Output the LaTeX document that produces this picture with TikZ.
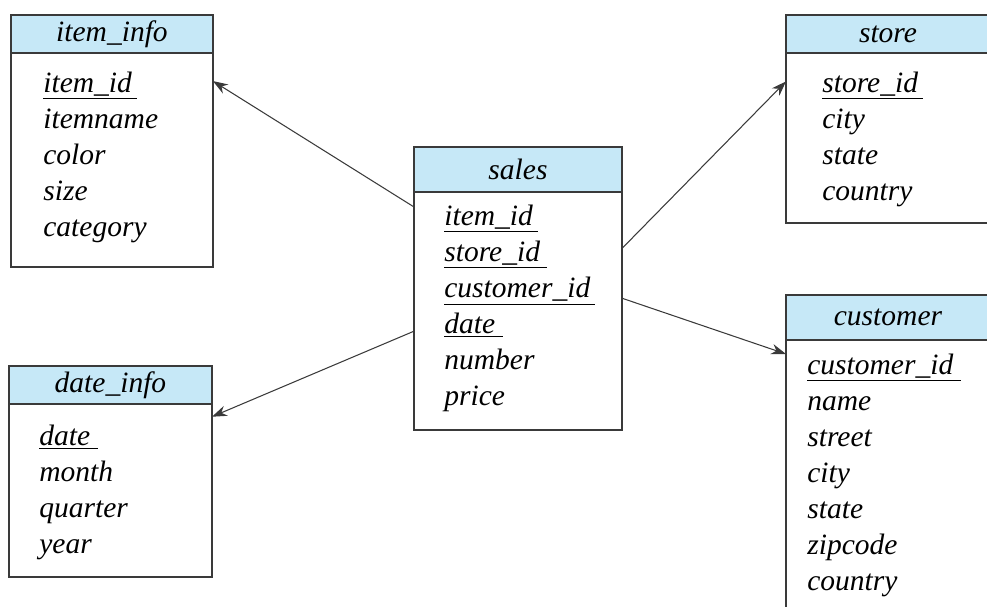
\documentclass[tikz,border=0pt]{standalone}
\usepackage{fontspec}
\setmainfont{Liberation Serif}
\usetikzlibrary{arrows.meta,positioning}

\definecolor{headblue}{HTML}{C6E8F7}
\definecolor{edge}{HTML}{3A3A3A}
\newcommand\tblfont{\fontsize{16.8}{20.5}\selectfont\itshape}

\begin{document}
\begin{tikzpicture}[
    x=0.02cm, y=-0.02cm,
    head/.style={draw=edge, line width=0.7pt, fill=headblue, inner sep=0pt, outer sep=0pt, font=\tblfont},
    body/.style={draw=edge, line width=0.7pt, fill=white, inner sep=0pt, outer sep=0pt},
    attrs/.style={anchor=north west, inner sep=0pt, align=left, font=\tblfont},
    arrow/.style={-{Stealth[length=8.5pt,width=6pt]}, line width=0.6pt, draw=edge}
  ]
    \useasboundingbox (0,0) rectangle (987,607);
    \clip (0,0) rectangle (987,607);

    \node[head, anchor=north west, minimum width=4.04cm, minimum height=0.76cm] (item_info) at (11,15) {item\_info};
    \node[body, below=0pt of item_info, minimum width=4.04cm, minimum height=4.28cm] (item_info-body) {};
    \node[attrs] (item_info-attrs) at ([shift={(32,14)}]item_info-body.north west)
      {\strut\underline{item\_id\,}\\itemname\\color\\size\\category};

    \node[head, anchor=north west, minimum width=4.06cm, minimum height=0.76cm] (date_info) at (9,366) {date\_info};
    \node[body, below=0pt of date_info, minimum width=4.06cm, minimum height=3.46cm] (date_info-body) {};
    \node[attrs] (date_info-attrs) at ([shift={(30,16)}]date_info-body.north west)
      {\strut\underline{date\ }\\month\\quarter\\year};

    \node[head, anchor=north west, minimum width=4.16cm, minimum height=0.9cm] (sales) at (414,147) {sales};
    \node[body, below=0pt of sales, minimum width=4.16cm, minimum height=4.76cm] (sales-body) {};
    \node[attrs] (sales-attrs) at ([shift={(30,8)}]sales-body.north west)
      {\strut\underline{item\_id\,}\\\underline{store\_id\ }\\\underline{customer\_id\,}\\\underline{date\ }\\number\\price};

    \node[head, anchor=north west, minimum width=4.08cm, minimum height=0.76cm] (store) at (786,15) {store};
    \node[body, below=0pt of store, minimum width=4.08cm, minimum height=3.4cm] (store-body) {};
    \node[attrs] (store-attrs) at ([shift={(36,14)}]store-body.north west)
      {\strut\underline{store\_id\,}\\city\\state\\country};

    \node[head, anchor=north west, minimum width=4.08cm, minimum height=0.9cm] (customer) at (786,295) {customer};
    \node[body, below=0pt of customer, minimum width=4.08cm, minimum height=5.6cm] (customer-body) {};
    \node[attrs] (customer-attrs) at ([shift={(21,9)}]customer-body.north west)
      {\strut\underline{customer\_id\ }\\name\\street\\city\\state\\zipcode\\country};

    \draw[arrow] (sales-body.135.8) -- (item_info-body.38.4);
    \draw[arrow] (sales-body.191.9) -- (date_info-body.36.6);
    \draw[arrow] (sales-body.31.6) -- (store-body.151.2);
    \draw[arrow] (sales-body.7.7) -- (customer-body.129.7);
  \end{tikzpicture}
\end{document}
